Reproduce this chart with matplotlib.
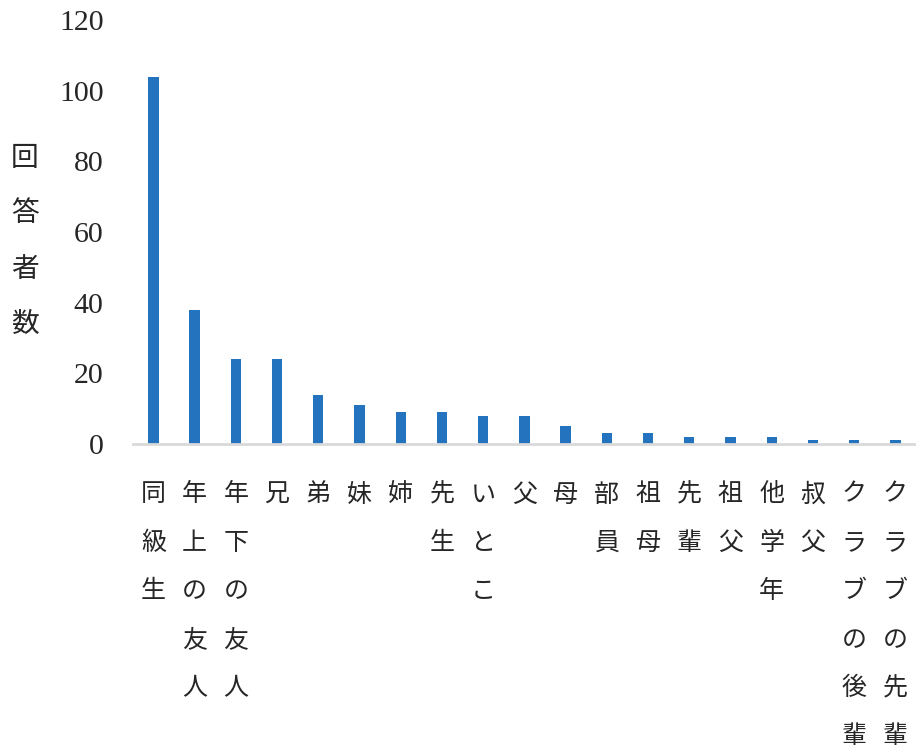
import matplotlib
matplotlib.use('Agg')
import matplotlib.pyplot as plt

# 回答者数 (relationship of respondent)
categories = ['同級生', '年上の友人', '年下の友人', '兄', '弟', '妹', '姉', '先生', 'いとこ',
              '父', '母', '部員', '祖母', '先輩', '祖父', '他学年', '叔父',
              'クラブの後輩', 'クラブの先輩']
counts = [104, 38, 24, 24, 14, 11, 9, 9, 8, 8, 5, 3, 3, 2, 2, 2, 1, 1, 1]
yticks = [0, 20, 40, 60, 80, 100, 120]

JP = ['Noto Sans CJK JP', 'DejaVu Sans']
NUM = ['Liberation Serif', 'DejaVu Serif']

fig = plt.figure(figsize=(9.16, 7.52), dpi=100)
ax = fig.add_axes([0.145, 0.4096, 0.855, 0.5638])

x = range(len(categories))
ax.bar(x, counts, width=0.25, color='#2473BE', zorder=2)

ax.set_xlim(-0.5, len(categories) - 0.5)
ax.set_ylim(0, 120)
ax.set_yticks(yticks)
ax.set_yticklabels([str(v) for v in yticks], fontsize=21.5, family=NUM, color='#262626')
ax.tick_params(axis='y', length=0, pad=21)

ax.set_xticks(list(x))
ax.set_xticklabels(['\n'.join(c) for c in categories], fontsize=18, family=JP,
                   color='#262626', linespacing=2.12, va='top')
ax.tick_params(axis='x', length=0, pad=27)

for s in ['top', 'right', 'left']:
    ax.spines[s].set_visible(False)
ax.spines['bottom'].set_color('#d9d9d9')
ax.spines['bottom'].set_linewidth(2)

fig.text(0.027, 0.6795, '\n'.join('回答者数'), fontsize=20, family=JP, color='#262626',
         ha='center', va='center', linespacing=2.1)

fig.savefig('out.png', dpi=100)
